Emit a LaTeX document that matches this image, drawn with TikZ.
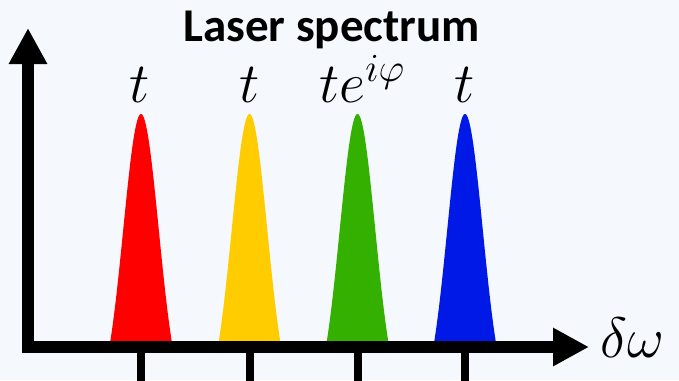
\RequirePackage{fix-cm}
\documentclass[tikz,border=0pt]{standalone}
\usepackage{fontspec}
\usetikzlibrary{arrows.meta}
\newfontfamily\titlefont{Carlito}
\definecolor{PanelBg}{HTML}{F5F8FC}
\definecolor{PeakRed}{HTML}{FF0000}
\definecolor{PeakYellow}{HTML}{FFCC00}
\definecolor{PeakGreen}{HTML}{33B000}
\definecolor{PeakBlue}{HTML}{0019E6}
\tikzset{
    % Axis styles
    axisline/.style={
        draw=black,
        line width=12pt,
        line cap=rect,
        -{Triangle[length=36pt,width=36pt]}
    },
    tickline/.style={
        draw=black,
        line width=8pt
    },
    % Text styles
    titlelabel/.style={
        font=\titlefont\bfseries\fontsize{47}{54}\selectfont,
        anchor=base,
        inner sep=0pt
    },
    amplabel/.style={
        font=\fontsize{57}{64}\selectfont,
        anchor=base,
        inner sep=0pt
    }
}

\begin{document}
\begin{tikzpicture}[x=1pt,y=-1pt]
                % Background
                \fill[PanelBg] (0,0) rectangle (679,380);
                \useasboundingbox (0,0) rectangle (679,380);

                % Peaks
                \fill[PeakRed] plot[domain=-31:31,samples=80] ({\x+141},{343-292*(exp(-(\x*\x)/626)-0.2157)}) -- cycle;
                \fill[PeakYellow] plot[domain=-31:31,samples=80] ({\x+249.5},{343-292*(exp(-(\x*\x)/626)-0.2157)}) -- cycle;
                \fill[PeakGreen] plot[domain=-31:31,samples=80] ({\x+357.5},{343-292*(exp(-(\x*\x)/626)-0.2157)}) -- cycle;
                \fill[PeakBlue] plot[domain=-31:31,samples=80] ({\x+465},{343-292*(exp(-(\x*\x)/626)-0.2157)}) -- cycle;

                % Axes
                \coordinate (origin) at (28,347);
                \coordinate (ytip) at (28,28);
                \coordinate (xtip) at (589,347);
                \draw[axisline] (origin) -- (ytip);
                \draw[axisline] (origin) -- (xtip);
                \node[amplabel,anchor=base west] (omega) at (600,357) {$\delta\omega$};

                % Ticks
                \coordinate (tickR) at (141,347);
                \coordinate (tickY) at (249.5,347);
                \coordinate (tickG) at (357.5,347);
                \coordinate (tickB) at (465,347);
                \draw[tickline] (tickR) -- ++(0,35);
                \draw[tickline] (tickY) -- ++(0,35);
                \draw[tickline] (tickG) -- ++(0,35);
                \draw[tickline] (tickB) -- ++(0,35);

                % Labels
                \node[titlelabel] (title) at (331.5,41.7) {Laser spectrum};
                \node[amplabel] (ampR) at (140,102) {$t$};
                \node[amplabel] (ampY) at (250,102) {$t$};
                \node[amplabel] (ampG) at (362,102) {$te^{i\varphi}$};
                \node[amplabel] (ampB) at (465,102) {$t$};
\end{tikzpicture}
\end{document}
